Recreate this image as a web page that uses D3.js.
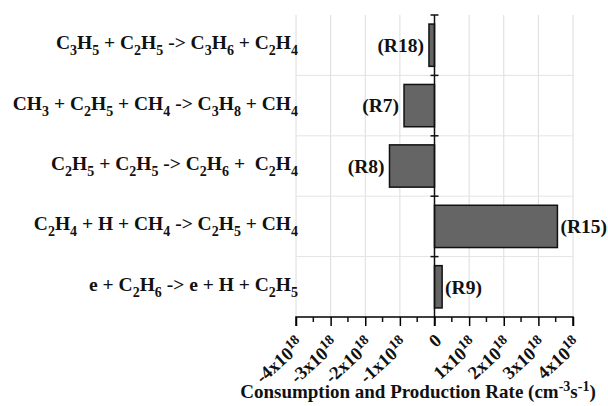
<!DOCTYPE html>
<html>
<head>
<meta charset="utf-8">
<script src="https://cdn.jsdelivr.net/npm/d3@7"></script>
<style>
  body { margin: 0; background: #fff; }
  text { font-family: "Liberation Serif", "Times New Roman", serif; font-weight: bold; fill: #111; }
</style>
</head>
<body>
<div id="chart"></div>
<script>
// reactions, top to bottom ("_n" = subscript n)
const reactions = [
    "C_3H_5 + C_2H_5 -> C_3H_6 + C_2H_4",
    "CH_3 + C_2H_5 + CH_4 -> C_3H_8 + CH_4",
    "C_2H_5 + C_2H_5 -> C_2H_6 +  C_2H_4",
    "C_2H_4 + H + CH_4 -> C_2H_5 + CH_4",
    "e + C_2H_6 -> e + H + C_2H_5"
];
const reactionIds = ["(R18)", "(R7)", "(R8)", "(R15)", "(R9)"];
// rates in units of 1e18 cm^-3 s^-1
const rates = [-0.16, -0.88, -1.3, 3.55, 0.22];
const xTicks = [-4, -3, -2, -1, 0, 1, 2, 3, 4];

const width = 608, height = 406;
const margin = {left: 296, right: 35, top: 15, bottom: 89};

const svg = d3.select("#chart").append("svg")
    .attr("width", width)
    .attr("height", height);

const x = d3.scaleLinear([-4, 4], [margin.left, width - margin.right]);
const y = d3.scaleBand(d3.range(reactions.length), [margin.top, height - margin.bottom])
    .paddingInner(0.3)
    .paddingOuter(0.15);

const plotTop = margin.top, plotBottom = height - margin.bottom;

// vertical grid lines
svg.selectAll("line.vgrid")
    .data(xTicks.filter(d => d !== 0))
    .enter()
    .append("line")
    .attr("class", "vgrid")
    .attr("x1", d => x(d)).attr("x2", d => x(d))
    .attr("y1", plotTop).attr("y2", plotBottom)
    .style("stroke", "#dcdcdc")
    .style("stroke-width", 1);

// horizontal grid lines between categories
const bounds = d3.range(1, reactions.length).map(i => y(i) - y.step() * y.paddingInner() / 2);
svg.selectAll("line.hgrid")
    .data(bounds)
    .enter()
    .append("line")
    .attr("class", "hgrid")
    .attr("x1", x(-4)).attr("x2", x(4))
    .attr("y1", d => d).attr("y2", d => d)
    .style("stroke", "#e4e4e4")
    .style("stroke-width", 1);

// bars
svg.selectAll("rect.bar")
    .data(rates)
    .enter()
    .append("rect")
    .attr("class", "bar")
    .attr("x", d => x(Math.min(0, d)))
    .attr("width", d => Math.abs(x(d) - x(0)))
    .attr("y", (d, i) => y(i))
    .attr("height", y.bandwidth())
    .style("fill", "#656565")
    .style("stroke", "#111")
    .style("stroke-width", 1.5);

// bar labels
svg.selectAll("text.rid")
    .data(rates)
    .enter()
    .append("text")
    .attr("class", "rid")
    .attr("x", d => d < 0 ? x(d) - 5 : x(d) + 3)
    .attr("y", (d, i) => y(i) + y.bandwidth() / 2)
    .attr("dy", "0.35em")
    .attr("text-anchor", d => d < 0 ? "end" : "start")
    .style("font-size", "19.5px")
    .text((d, i) => reactionIds[i]);

// y axis line at zero with ticks at category boundaries
svg.append("line")
    .attr("x1", x(0)).attr("x2", x(0))
    .attr("y1", plotTop).attr("y2", plotBottom + 9)
    .style("stroke", "#111").style("stroke-width", 1.5);
svg.selectAll("line.ytick")
    .data([plotTop].concat(bounds))
    .enter()
    .append("line")
    .attr("x1", x(0) - 4).attr("x2", x(0) + 4)
    .attr("y1", d => d).attr("y2", d => d)
    .style("stroke", "#111").style("stroke-width", 1.5);

// category labels with subscripts
svg.selectAll("text.rlab")
    .data(reactions)
    .enter()
    .append("text")
    .attr("class", "rlab")
    .attr("x", 298)
    .attr("y", (d, i) => y(i) + y.bandwidth() / 2 + 4)
    .attr("text-anchor", "end")
    .style("font-size", "19.5px")
    .style("white-space", "pre")
    .each(function(d) {
        const t = d3.select(this);
        let down = false;
        d.split(/(_\d)/).forEach(part => {
            if (!part) return;
            if (part[0] === "_") {
                t.append("tspan").attr("dy", down ? 0 : 6).style("font-size", "14px").text(part[1]);
                down = true;
            } else {
                t.append("tspan").attr("dy", down ? -6 : 0).text(part);
                down = false;
            }
        });
    });

// x axis
const xAxis = d3.axisBottom(x)
    .tickValues(xTicks)
    .tickSize(9)
    .tickFormat("");
const gx = svg.append("g")
    .attr("transform", `translate(0,${plotBottom})`)
    .call(xAxis);
gx.selectAll(".tick text").remove();
gx.select(".domain").attr("d", `M${x(-4)},9V0H${x(4)}V9`).style("stroke-width", 1.5);
gx.selectAll(".tick line").style("stroke-width", 1.5);
// minor ticks
gx.selectAll("line.minor")
    .data(d3.range(-3.5, 4, 1))
    .enter()
    .append("line")
    .attr("x1", d => x(d)).attr("x2", d => x(d))
    .attr("y1", 0).attr("y2", 5)
    .style("stroke", "#111").style("stroke-width", 1.5);

// rotated tick labels
gx.selectAll("text.xlab")
    .data(xTicks)
    .enter()
    .append("text")
    .attr("class", "xlab")
    .attr("text-anchor", "end")
    .attr("transform", d => `translate(${x(d) + (d === 0 ? 8 : 9)},${d === 0 ? 25 : 29}) rotate(-42)`)
    .style("font-size", "18.5px")
    .each(function(d) {
        const t = d3.select(this);
        if (d === 0) { t.text("0"); return; }
        t.append("tspan").text(d + "x10");
        t.append("tspan").attr("dy", -7).style("font-size", "14px").text("18");
    });

// axis title
const title = svg.append("text")
    .attr("x", 418)
    .attr("y", 398)
    .attr("text-anchor", "middle")
    .style("font-size", "19px");
title.append("tspan").text("Consumption and Production Rate (cm");
title.append("tspan").attr("dy", -7).style("font-size", "14px").text("-3");
title.append("tspan").attr("dy", 7).text("s");
title.append("tspan").attr("dy", -7).style("font-size", "14px").text("-1");
title.append("tspan").attr("dy", 7).text(")");
</script>
</body>
</html>
